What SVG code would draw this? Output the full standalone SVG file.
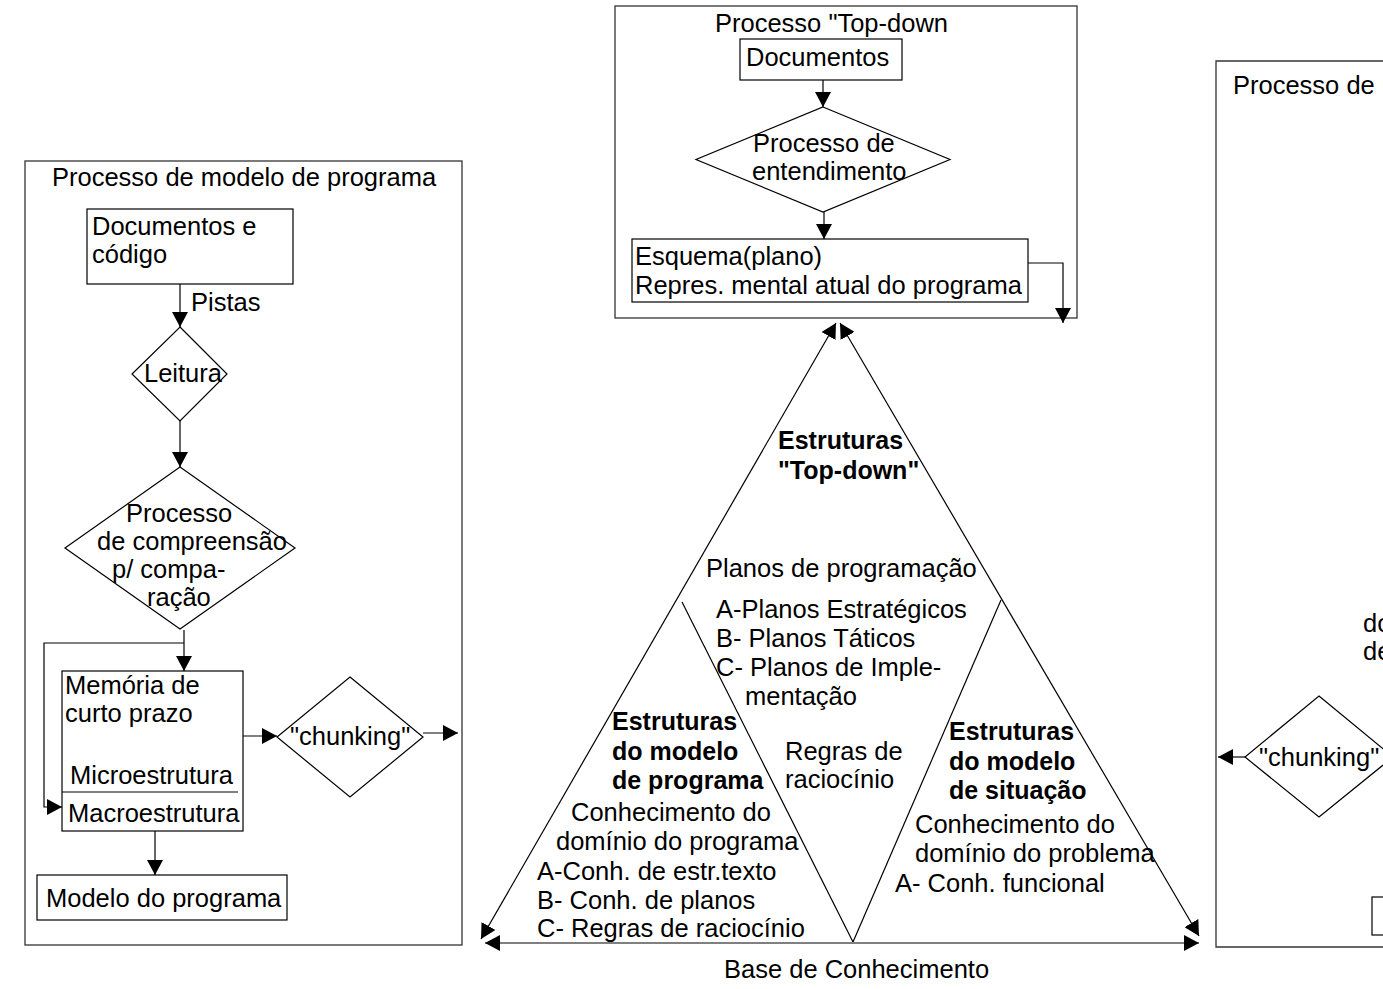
<svg xmlns="http://www.w3.org/2000/svg" width="1383" height="989" viewBox="0 0 1383 989">
<style>
text{font-family:"Liberation Sans",Arial,sans-serif;font-size:25.5px;fill:#000}
.b{font-weight:bold;font-size:25px}
.box{fill:#fff;stroke:#000;stroke-width:1.2}
.frame{fill:none;stroke:#333;stroke-width:1.3}
.ln{fill:none;stroke:#000;stroke-width:1.2}
.gray{fill:none;stroke:#808080;stroke-width:2}
</style>
<defs>
<marker id="ah" markerWidth="15" markerHeight="16" refX="15" refY="8" orient="auto-start-reverse" markerUnits="userSpaceOnUse"><path d="M0,0 L15,8 L0,16 z" fill="#000"/></marker>
</defs>
<rect width="1383" height="989" fill="#fff"/>

<g id="frame-left">
<rect class="frame" x="25" y="161" width="437" height="784"/>
<text x="52" y="186">Processo de modelo de programa</text>
</g>
<g id="doc-codigo">
<rect class="box" x="87" y="209" width="206" height="75"/>
<text x="92" y="235">Documentos e</text>
<text x="92" y="263">código</text>
</g>
<g id="leitura">
<polygon class="box" points="180,327 227,374 180,421 132,374"/>
<text x="144" y="382">Leitura</text>
</g>
<g id="compreensao">
<polygon class="box" points="180,467 295,548 180,629 65,548"/>
<text x="126" y="522">Processo</text>
<text x="97" y="550">de compreensão</text>
<text x="112" y="578">p/ compa-</text>
<text x="147" y="606">ração</text>
</g>
<g id="memoria">
<rect class="box" x="62" y="671" width="181" height="160"/>
<line class="ln" x1="62" y1="792" x2="238" y2="792"/>
<text x="65" y="694">Memória de</text>
<text x="65" y="722">curto prazo</text>
<text x="70" y="784">Microestrutura</text>
<text x="68" y="822">Macroestrutura</text>
</g>
<g id="chunking-left">
<polygon class="box" points="350,677 423,737 350,797 277,737"/>
<text x="290" y="745">"chunking"</text>
</g>
<g id="modelo-programa">
<rect class="box" x="37" y="875" width="250" height="45"/>
<text x="46" y="907">Modelo do programa</text>
</g>

<g id="frame-top">
<rect class="frame" x="615" y="6" width="462" height="312"/>
<text x="715" y="32">Processo "Top-down</text>
</g>
<g id="documentos">
<rect class="box" x="740" y="39" width="162" height="41"/>
<text x="746" y="66">Documentos</text>
</g>
<g id="entendimento">
<polygon class="box" points="823,107 950,159.5 823,212 696,159.5"/>
<text x="753" y="152">Processo de</text>
<text x="752" y="180">entendimento</text>
</g>
<g id="esquema">
<rect class="box" x="632" y="239" width="396" height="63"/>
<text x="635" y="265">Esquema(plano)</text>
<text x="635" y="294">Repres. mental atual do programa</text>
</g>

<g id="frame-right">
<polyline class="frame" points="1390,61 1216,61 1216,947 1390,947"/>
<text x="1233" y="94">Processo de m</text>
<text x="1363" y="632">do</text>
<text x="1363" y="660">de</text>
</g>
<g id="chunking-right">
<polygon class="box" points="1319,696 1393,757 1319,817 1245,757"/>
<text x="1259" y="766">"chunking"</text>
</g>
<g id="box-right">
<rect class="box" x="1372" y="897" width="30" height="38"/>
</g>

<g id="triangle">
<text class="b" x="778" y="449">Estruturas</text>
<text class="b" x="778" y="479">"Top-down"</text>
<text x="706" y="577">Planos de programação</text>
<text x="716" y="618">A-Planos Estratégicos</text>
<text x="716" y="647">B- Planos Táticos</text>
<text x="716" y="676">C- Planos de Imple-</text>
<text x="745" y="705">mentação</text>
<text class="b" x="612" y="730">Estruturas</text>
<text class="b" x="612" y="760">do modelo</text>
<text class="b" x="612" y="789">de programa</text>
<text x="785" y="760">Regras de</text>
<text x="785" y="788">raciocínio</text>
<text x="571" y="821">Conhecimento do</text>
<text x="556" y="850">domínio do programa</text>
<text x="537" y="880">A-Conh. de estr.texto</text>
<text x="537" y="909">B- Conh. de planos</text>
<text x="537" y="937">C- Regras de raciocínio</text>
<text class="b" x="949" y="740">Estruturas</text>
<text class="b" x="949" y="770">do modelo</text>
<text class="b" x="949" y="799">de situação</text>
<text x="915" y="833">Conhecimento do</text>
<text x="915" y="862">domínio do problema</text>
<text x="895" y="892">A- Conh. funcional</text>
<text x="724" y="978">Base de Conhecimento</text>
</g>

<g id="connectors">
<line class="ln" x1="180" y1="284" x2="180" y2="327" marker-end="url(#ah)"/>
<line class="ln" x1="180" y1="421" x2="180" y2="467" marker-end="url(#ah)"/>
<text x="191" y="311">Pistas</text>
<line class="ln" x1="184" y1="630" x2="184" y2="671" marker-end="url(#ah)"/>
<polyline class="ln" points="184,643 44,643 44,807 62,807" marker-end="url(#ah)"/>
<line class="ln" x1="243" y1="736" x2="277" y2="736" marker-end="url(#ah)"/>
<line class="ln" x1="423" y1="733" x2="458" y2="733" marker-end="url(#ah)"/>
<line class="ln" x1="155" y1="831" x2="155" y2="875" marker-end="url(#ah)"/>
<line class="ln" x1="823" y1="80" x2="823" y2="107" marker-end="url(#ah)"/>
<line class="ln" x1="824" y1="212" x2="824" y2="239" marker-end="url(#ah)"/>
<polyline class="ln" points="1028,263 1063,263 1063,323" marker-end="url(#ah)"/>
<line class="ln" x1="1245" y1="757" x2="1218" y2="757" marker-end="url(#ah)"/>
<line class="ln" x1="481" y1="939" x2="836" y2="323" marker-start="url(#ah)" marker-end="url(#ah)"/>
<line class="ln" x1="840" y1="323" x2="1199" y2="936" marker-start="url(#ah)" marker-end="url(#ah)"/>
<line class="gray" x1="485" y1="943" x2="1199" y2="943" marker-start="url(#ah)" marker-end="url(#ah)"/>
<line class="ln" x1="682" y1="602" x2="853" y2="942"/>
<line class="ln" x1="1001" y1="600" x2="853" y2="942"/>
</g>
</svg>
